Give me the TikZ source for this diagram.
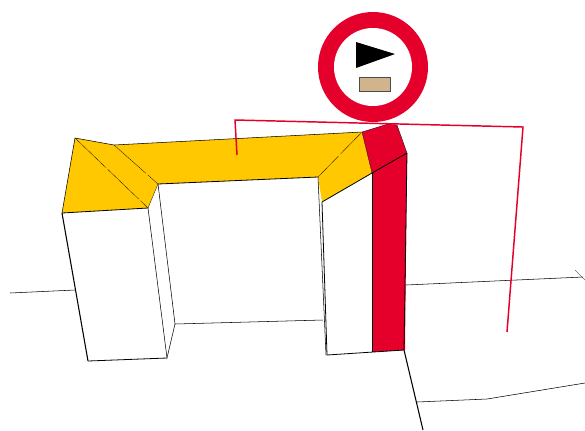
\documentclass[tikz,border=0pt]{standalone}
\definecolor{signred}{RGB}{228,0,43}
\definecolor{roofyellow}{RGB}{255,200,0}
\definecolor{plate}{RGB}{210,180,140}
\begin{document}
\begin{tikzpicture}[x=0.75pt,y=-0.75pt]

  \useasboundingbox (0,0) rectangle (585,430);

  % coloured faces
  \fill[roofyellow] (75,138) -- (114,145) -- (362,132) -- (372,173) -- (322,202) -- (318,177) -- (158,184) -- (148,208) -- (62,213) -- cycle;
  \fill[signred] (362,132) -- (388,124) -- (397,125) -- (407,153) -- (372,173) -- cycle;
  \fill[signred] (372,173) -- (407,153) -- (405,350) -- (372,352) -- cycle;

  % roof outline and folds
  \draw[thin] (62,213) -- (75,138) -- (114,145) -- (362,132);
  \draw[semithick] (62,213) -- (148,208);
  \draw[semithick] (158,184) -- (318,177);
  \draw[semithick] (322,202) -- (372,173) -- (407,153);
  \draw[very thin,dash pattern=on 32pt off 2pt] (75,138) -- (148,208);
  \draw[very thin,dash pattern=on 32pt off 2pt] (114,145) -- (158,184);
  \draw[very thin] (148,208) -- (158,184);
  \draw[very thin,dash pattern=on 22pt off 2pt] (318,177) -- (362,132);
  \draw[very thin] (362,132) -- (372,173);
  \draw[very thin] (362,132) -- (388,124) -- (397,125) -- (407,153);

  % walls
  \draw[thick] (62,213) -- (88,361);
  \draw[semithick] (88,361) -- (167,358);
  \draw[thin] (148,208) -- (167,358) -- (175,324) -- (158,184);
  \draw[thin] (175,324) -- (323,320);
  \draw[thin] (318,177) -- (326,355);
  \draw[semithick] (322,202) -- (327,355) -- (404,350);
  \draw[thin] (372,173) -- (372,352);
  \draw[semithick] (407,153) -- (404,350);

  % ground
  \draw[thin] (10,293) -- (75,290);
  \draw[thin] (406,285) -- (583,277);
  \draw[very thin] (575,270) -- (585,280);
  \draw[thick] (404,350) -- (423,430);
  \draw[thin] (417,402) -- (487,399) -- (585,383);

  % sign
  \fill[signred] (373,67) circle (55);
  \fill[white] (373,67) circle (39);
  \fill[black] (356,42) -- (395,54) -- (356,68) -- cycle;
  \draw[fill=plate,draw=black!70] (359,77) rectangle (390,91);

  % red line
  \draw[signred,line width=1.1pt] (237,155) -- (235,120) -- (523,127) -- (507,332);

\end{tikzpicture}
\end{document}
